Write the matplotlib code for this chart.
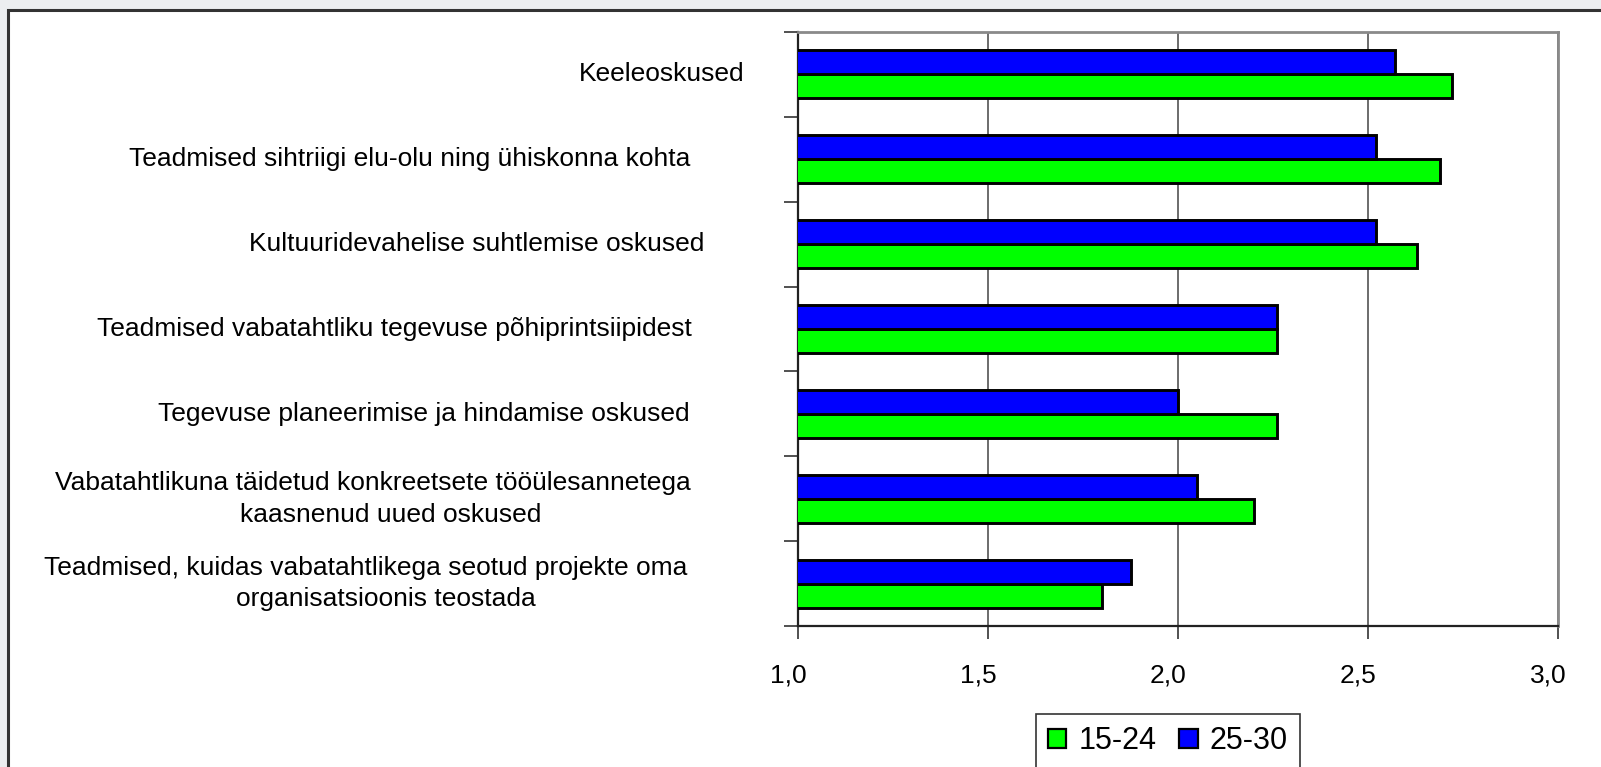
import matplotlib
matplotlib.use('Agg')
import matplotlib.pyplot as plt
from matplotlib.patches import Rectangle, Patch
from matplotlib.ticker import FixedLocator, FuncFormatter
from matplotlib.transforms import ScaledTranslation
import numpy as np

plt.rcParams['font.family'] = ['Liberation Sans', 'DejaVu Sans']

categories = [
    "Keeleoskused",
    "Teadmised sihtriigi elu-olu ning ühiskonna kohta",
    "Kultuuridevahelise suhtlemise oskused",
    "Teadmised vabatahtliku tegevuse põhiprintsiipidest",
    "Tegevuse planeerimise ja hindamise oskused",
    "Vabatahtlikuna täidetud konkreetsete tööülesannetega\nkaasnenud uued oskused",
    "Teadmised, kuidas vabatahtlikega seotud projekte oma\norganisatsioonis teostada",
]
vals_15_24 = [2.72, 2.69, 2.63, 2.26, 2.26, 2.20, 1.80]
vals_25_30 = [2.57, 2.52, 2.52, 2.26, 2.00, 2.05, 1.875]
series_names = ["15-24", "25-30"]
xticks = [1.0, 1.5, 2.0, 2.5, 3.0]

# layout only: right-edge gap of first line, centre gap of second line (pixels)
label_gaps = [54, 108, 94, 106, 108, 107, 111]
line2_gaps = [None, None, None, None, None, 407, 412]

W, H = 1601, 767
fig = plt.figure(figsize=(W / 100, H / 100), dpi=100, facecolor='#ECEEF0')
fig.patches.append(Rectangle((8 / W, -0.1), 1.2, 1.1 - 10 / H,
                             transform=fig.transFigure, facecolor='white',
                             edgecolor='#333333', lw=2.2, zorder=-10))

ax = fig.add_axes([798 / W, 1 - 626 / H, 760 / W, 594 / H])
ax.set_zorder(2)
ax.set_facecolor('white')

n = len(categories)
y = np.arange(n)[::-1].astype(float)
bh = 0.283
ax.barh(y - bh / 2, vals_15_24, height=bh, color='#00FF00', edgecolor='black', lw=2.1, zorder=3)
ax.barh(y + bh / 2, vals_25_30, height=bh, color='#0000FF', edgecolor='black', lw=2.1, zorder=3)

ax.set_xlim(1.0, 3.0)
ax.set_ylim(-0.5, n - 0.5)
ax.xaxis.set_major_locator(FixedLocator(xticks))
ax.xaxis.set_major_formatter(FuncFormatter(lambda v, p: f"{v:.1f}".replace('.', ',')))
ax.tick_params(axis='x', direction='out', length=9, width=1.2, labelsize=19, pad=18, color='#333333')
shift = ScaledTranslation(-10 / 100, 0, fig.dpi_scale_trans)
for lbl in ax.get_xticklabels():
    lbl.set_transform(lbl.get_transform() + shift)
ax.set_yticks(np.arange(-0.5, n, 1.0))
ax.set_yticklabels([])
ax.tick_params(axis='y', direction='out', length=10, width=1.2, color='#333333')

ax.grid(axis='x', color='#444444', lw=1.1, zorder=1)
ax.set_axisbelow(True)

for s in ['left', 'bottom']:
    ax.spines[s].set_color('#222222')
    ax.spines[s].set_linewidth(1.6)
for s in ['top', 'right']:
    ax.spines[s].set_color('#8A8A8A')
    ax.spines[s].set_linewidth(2)

fs = 19
for yi, lab, gap, gap2 in zip(y, categories, label_gaps, line2_gaps):
    lines = lab.split('\n')
    if len(lines) == 1:
        ax.annotate(lab, xy=(0, yi), xycoords=('axes fraction', 'data'),
                    xytext=(-gap, 0), textcoords='offset pixels',
                    ha='right', va='center', fontsize=fs, color='black')
    else:
        ax.annotate(lines[0], xy=(0, yi), xycoords=('axes fraction', 'data'),
                    xytext=(-gap, 15.8), textcoords='offset pixels',
                    ha='right', va='center', fontsize=fs, color='black')
        ax.annotate(lines[1], xy=(0, yi), xycoords=('axes fraction', 'data'),
                    xytext=(-gap2, -15.8), textcoords='offset pixels',
                    ha='center', va='center', fontsize=fs, color='black')

handles = [Patch(facecolor='#00FF00', edgecolor='black', lw=1.6, label=series_names[0]),
           Patch(facecolor='#0000FF', edgecolor='black', lw=1.6, label=series_names[1])]
leg = fig.legend(handles=handles, loc='center', bbox_to_anchor=(1168 / W, 1 - 741 / H),
                 ncol=2, fontsize=22, frameon=True, fancybox=False,
                 handlelength=0.6, handleheight=0.6, handletextpad=0.4,
                 columnspacing=0.75, borderpad=0.4, borderaxespad=0)
leg.get_frame().set_edgecolor('black')
leg.get_frame().set_linewidth(1.2)

fig.savefig('out.png', dpi=100, facecolor=fig.get_facecolor())
